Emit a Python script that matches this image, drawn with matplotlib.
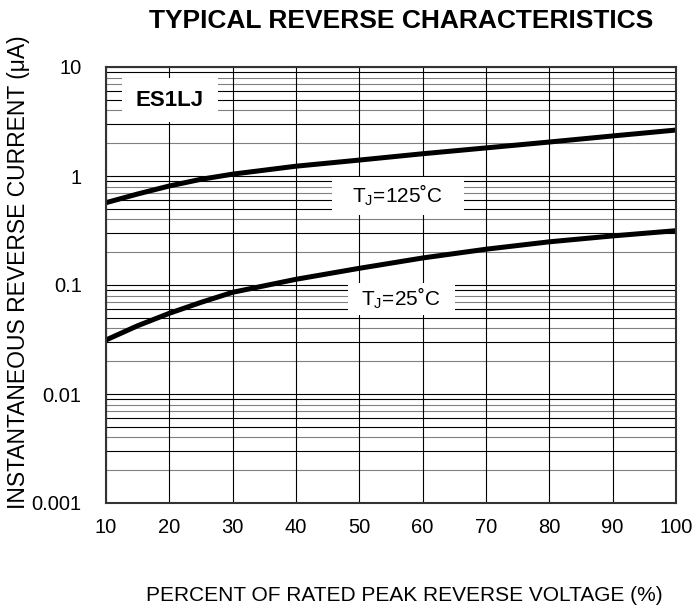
import matplotlib
matplotlib.use("Agg")
import matplotlib.pyplot as plt
import numpy as np
from matplotlib.ticker import FixedLocator, NullFormatter
from matplotlib.patches import Rectangle

plt.rcParams['font.family'] = ['Liberation Sans', 'DejaVu Sans']

x_pct = [10, 15, 20, 25, 30, 40, 50, 60, 70, 80, 90, 100]
i_125 = [0.569, 0.684, 0.81, 0.933, 1.04, 1.23, 1.40, 1.60, 1.81, 2.05, 2.33, 2.64]
i_25 = [0.0313, 0.0423, 0.0550, 0.0693, 0.0857, 0.1128, 0.1423, 0.177, 0.213, 0.249, 0.282, 0.315]
y_ticks = [0.001, 0.01, 0.1, 1, 10]
y_labels = ["0.001", "0.01", "0.1", "1", "10"]
x_ticks = [10, 20, 30, 40, 50, 60, 70, 80, 90, 100]

fig = plt.figure(figsize=(6.94, 6.08), dpi=100)
ax = fig.add_axes([106/694, 1-503/608, (676-106)/694, (503-67)/608])
ax.set_yscale('log')
ax.set_xlim(10, 100)
ax.set_ylim(0.001, 10)

# grid lines
pattern = {9: '#000000', 8: '#808080', 7: '#808080', 6: '#000000',
           5: '#000000', 4: '#808080', 3: '#000000', 2: '#808080'}
for d in [0.001, 0.01, 0.1, 1]:
    for m in range(2, 10):
        ax.axhline(d*m, color=pattern[m], lw=0.8, zorder=1)
for v in y_ticks:
    ax.axhline(v, color='black', lw=0.8, zorder=1)
for v in x_ticks:
    ax.axvline(v, color='black', lw=0.8, zorder=1)

ax.plot(x_pct, i_125, color='black', lw=3.6, zorder=3, solid_capstyle='butt')
ax.plot(x_pct, i_25, color='black', lw=3.6, zorder=3, solid_capstyle='butt')

ax.set_xticks(x_ticks)
ax.set_xticklabels([str(v) for v in x_ticks], fontsize=14.5)
ax.yaxis.set_major_locator(FixedLocator(y_ticks))
ax.set_yticklabels(y_labels, fontsize=14.5)
ax.yaxis.set_minor_locator(FixedLocator([]))
ax.yaxis.set_minor_formatter(NullFormatter())
ax.tick_params(which='both', length=0)
ax.tick_params(axis='x', pad=11)
ax.tick_params(axis='y', pad=17.5)
for s in ax.spines.values():
    s.set_linewidth(1.5)
    s.set_color('#333333')
    s.set_zorder(5)

# label boxes (white background covering grid)
for (x0, x1, y0, y1) in [(0.0281, 0.1965, 0.8739, 0.9748),
                         (0.3965, 0.6281, 0.6606, 0.7477),
                         (0.4246, 0.6123, 0.4312, 0.5046)]:
    ax.add_patch(Rectangle((x0, y0), x1-x0, y1-y0, transform=ax.transAxes,
                           fc='white', ec='none', zorder=2))

ax.text(0.1123, 0.9243, 'ES1LJ', transform=ax.transAxes, fontsize=16, fontweight='bold',
        ha='center', va='center', zorder=4)
ax.text(0.511, 0.706, r'T$_\mathregular{J}$=125˚C', transform=ax.transAxes, fontsize=15,
        ha='center', va='center', zorder=4)
ax.text(0.5167, 0.470, r'T$_\mathregular{J}$=25˚C', transform=ax.transAxes, fontsize=15,
        ha='center', va='center', zorder=4)

fig.text(0.578, 0.965, 'TYPICAL REVERSE CHARACTERISTICS', fontsize=19, fontweight='bold',
         ha='center', va='center')
fig.text(0.583, 0.021, 'PERCENT OF RATED PEAK REVERSE VOLTAGE (%)', fontsize=15,
         ha='center', va='center')
fig.text(0.026, 0.553, 'INSTANTANEOUS REVERSE CURRENT (μA)', fontsize=16.5,
         ha='center', va='center', rotation=90)

fig.savefig('out.png', dpi=100)
